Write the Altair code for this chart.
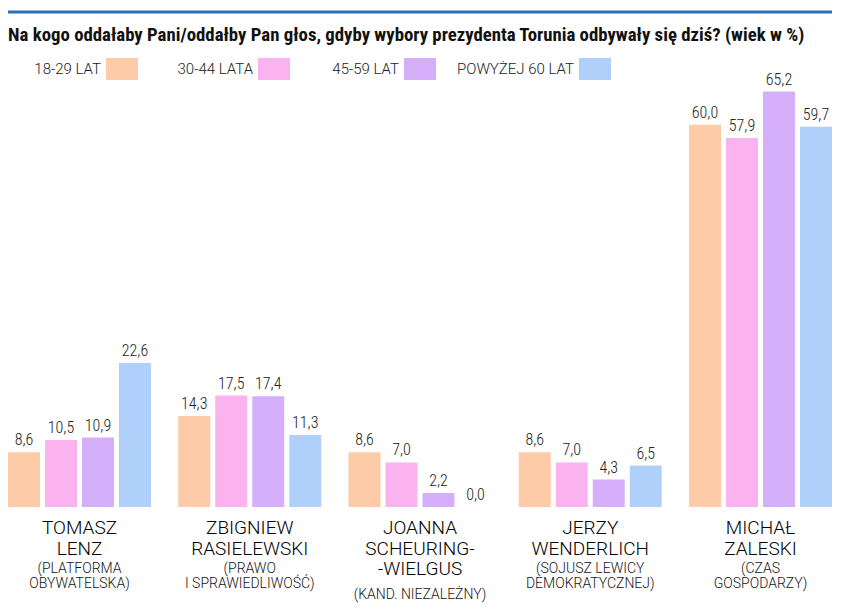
import altair as alt
import pandas as pd

# ---- data ----
title_text = "Na kogo oddałaby Pani/oddałby Pan głos, gdyby wybory prezydenta Torunia odbywały się dziś? (wiek w %)"
groups = ["18-29 LAT", "30-44 LATA", "45-59 LAT", "POWYŻEJ 60 LAT"]
cands = ["Tomasz Lenz", "Zbigniew Rasielewski", "Joanna Scheuring-Wielgus", "Jerzy Wenderlich", "Michał Zaleski"]
name_lines = ["TOMASZ\nLENZ", "ZBIGNIEW\nRASIELEWSKI", "JOANNA\nSCHEURING-\n-WIELGUS", "JERZY\nWENDERLICH", "MICHAŁ\nZALESKI"]
party_lines = ["(PLATFORMA\nOBYWATELSKA)", "(PRAWO\nI SPRAWIEDLIWOŚĆ)", "(KAND. NIEZALEŻNY)",
               "(SOJUSZ LEWICY\nDEMOKRATYCZNEJ)", "(CZAS\nGOSPODARZY)"]
v_18_29 = [8.6, 14.3, 8.6, 8.6, 60.0]
v_30_44 = [10.5, 17.5, 7.0, 7.0, 57.9]
v_45_59 = [10.9, 17.4, 2.2, 4.3, 65.2]
v_60 = [22.6, 11.3, 0.0, 6.5, 59.7]

# ---- styles / layout ----
colors = ["#FDCBA8", "#FAB3EE", "#D5AFFA", "#B0D0FC"]
W, H = 824, 446
legend_x = [98, 250, 396, 571]
NARROW = "Roboto Condensed, Liberation Sans Narrow, DejaVu Sans Condensed, Roboto"
SANS = "Roboto, Open Sans, sans-serif"

rows = []
for g, vals in zip(groups, [v_18_29, v_30_44, v_45_59, v_60]):
    for c, v in zip(cands, vals):
        rows.append({"cand": c, "group": g, "value": v})
bars_df = pd.DataFrame(rows)

lab_df = pd.DataFrame({"cand": cands, "name": name_lines, "party": party_lines})
lab_df["n"] = lab_df["name"].str.count("\n") + 1
lab_df["py"] = 473 + 26 * lab_df["n"] - 13

x = alt.X("cand:N", sort=cands, axis=None,
          scale=alt.Scale(domain=cands, paddingInner=0.16, paddingOuter=0))
xo = alt.XOffset("group:N", sort=groups,
                 scale=alt.Scale(domain=groups, paddingInner=0.135, paddingOuter=0))
y = alt.Y("value:Q", axis=None, scale=alt.Scale(domain=[0, 70], nice=False))
color = alt.Color("group:N", legend=None, scale=alt.Scale(domain=groups, range=colors))

bars = alt.Chart(bars_df).mark_bar().encode(x=x, xOffset=xo, y=y, color=color)

vals = alt.Chart(bars_df).transform_calculate(
    lbl="replace(format(datum.value, '.1f'), '.', ',')"
).mark_text(dy=-7, baseline="alphabetic", font=NARROW, fontSize=16, fontWeight=300,
            color="#222222").encode(x=x, xOffset=xo, y=y, text="lbl:N")

names = alt.Chart(lab_df).mark_text(
    lineBreak="\n", lineHeight=20.5, baseline="alphabetic", font=SANS, fontSize=19,
    fontWeight=300, color="#000000"
).encode(x=x, y=alt.value(473), text="name:N")

layers = [bars, vals, names]

for py in sorted(lab_df["py"].unique()):
    layers.append(
        alt.Chart(lab_df).transform_filter(alt.datum.py == int(py)).mark_text(
            lineBreak="\n", lineHeight=15, baseline="alphabetic", font=SANS, fontSize=14,
            fontWeight=300, color="#151515"
        ).encode(x=x, y=alt.value(int(py)), text="party:N")
    )

# top rule and title
layers.append(alt.Chart(pd.DataFrame({"a": [0]})).mark_rule(color="#2C6EBE", strokeWidth=3).encode(
    x=alt.value(0), x2=alt.value(W), y=alt.value(-49)))
layers.append(alt.Chart(pd.DataFrame({"t": [title_text]})).mark_text(
    align="left", baseline="alphabetic", font=NARROW, fontSize=18.8, fontWeight="bold", color="#111111"
).encode(x=alt.value(0), y=alt.value(-20), text="t:N"))

# custom legend (label left of swatch)
for g, c, lx in zip(groups, colors, legend_x):
    gd = pd.DataFrame({"g": [g]})
    layers.append(alt.Chart(gd).mark_rect(color=c).encode(
        x=alt.value(lx), x2=alt.value(lx + 32), y=alt.value(-3), y2=alt.value(19)))
    layers.append(alt.Chart(gd).mark_text(
        align="right", baseline="alphabetic", font=SANS, fontSize=15, fontWeight=300, color="#222222"
    ).encode(x=alt.value(lx - 5), y=alt.value(13), text="g:N"))

chart = alt.layer(*layers).properties(
    width=W, height=H,
    autosize=alt.AutoSizeParams(type="none"),
    padding={"left": 0, "top": 53, "right": 12, "bottom": 96},
    background="white",
).configure_view(stroke=None)

chart.save("out.html", embed_options={"renderer": "svg", "actions": False})
